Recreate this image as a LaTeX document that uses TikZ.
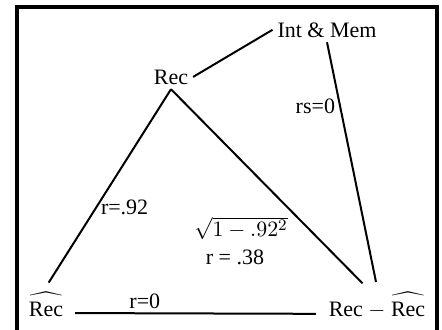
\documentclass[tikz,border=0pt]{standalone}
\usepackage{amsmath}
\usepackage{fontspec}
\setmainfont{Liberation Serif}
\usepackage{tikz}
\usetikzlibrary{positioning}

\newcommand{\hatrec}{\widehat{\text{Rec}\rule{0pt}{1.7ex}}}

\begin{document}
\begin{tikzpicture}[x=0.5pt, y=0.5pt, line width=1pt,
    every node/.style={font=\fontsize{11}{13}\selectfont, inner sep=2pt},
    var/.style={anchor=base}]
    \useasboundingbox (0,0) rectangle (442,329);
    % Draw frame
    \draw[line width=1.6pt] (17,-10) -- (17,322) -- (437,322) -- (437,-10);

    % Draw variables
    \node[var] (rec) at (171,245) {Rec};
    \node[var] (intmem) at (327,292) {Int \& Mem};
    \node[var] (rechat) at (46,13) {$\hatrec$};
    \node[var] (resid) at (377,13) {Rec $-$ $\hatrec$};

    % Draw paths
    \draw (rec.east) -- (intmem.west);
    \draw[shorten >=2.5pt] (rec.south) -- (rechat.north) node[pos=0.6, right] {r=.92};
    \draw[shorten >=2.5pt] (rec.south) -- ([xshift=-5.5pt]resid.north);
    \draw[shorten >=2.5pt] (intmem.south) -- (resid.north) node[pos=0.26, left] {rs=0};
    \draw[shorten <=3.5pt, shorten >=4pt] ([yshift=-4.5pt]rechat.east) -- ([yshift=-4.5pt]resid.west)
        node[pos=0.3, above] {r=0};

    % Draw residual correlation
    \node (sqrtlbl) at (241,101) {$\sqrt{1-.92^2}$};
    \node (rlbl) at (235,72) {r = .38};
\end{tikzpicture}
\end{document}
